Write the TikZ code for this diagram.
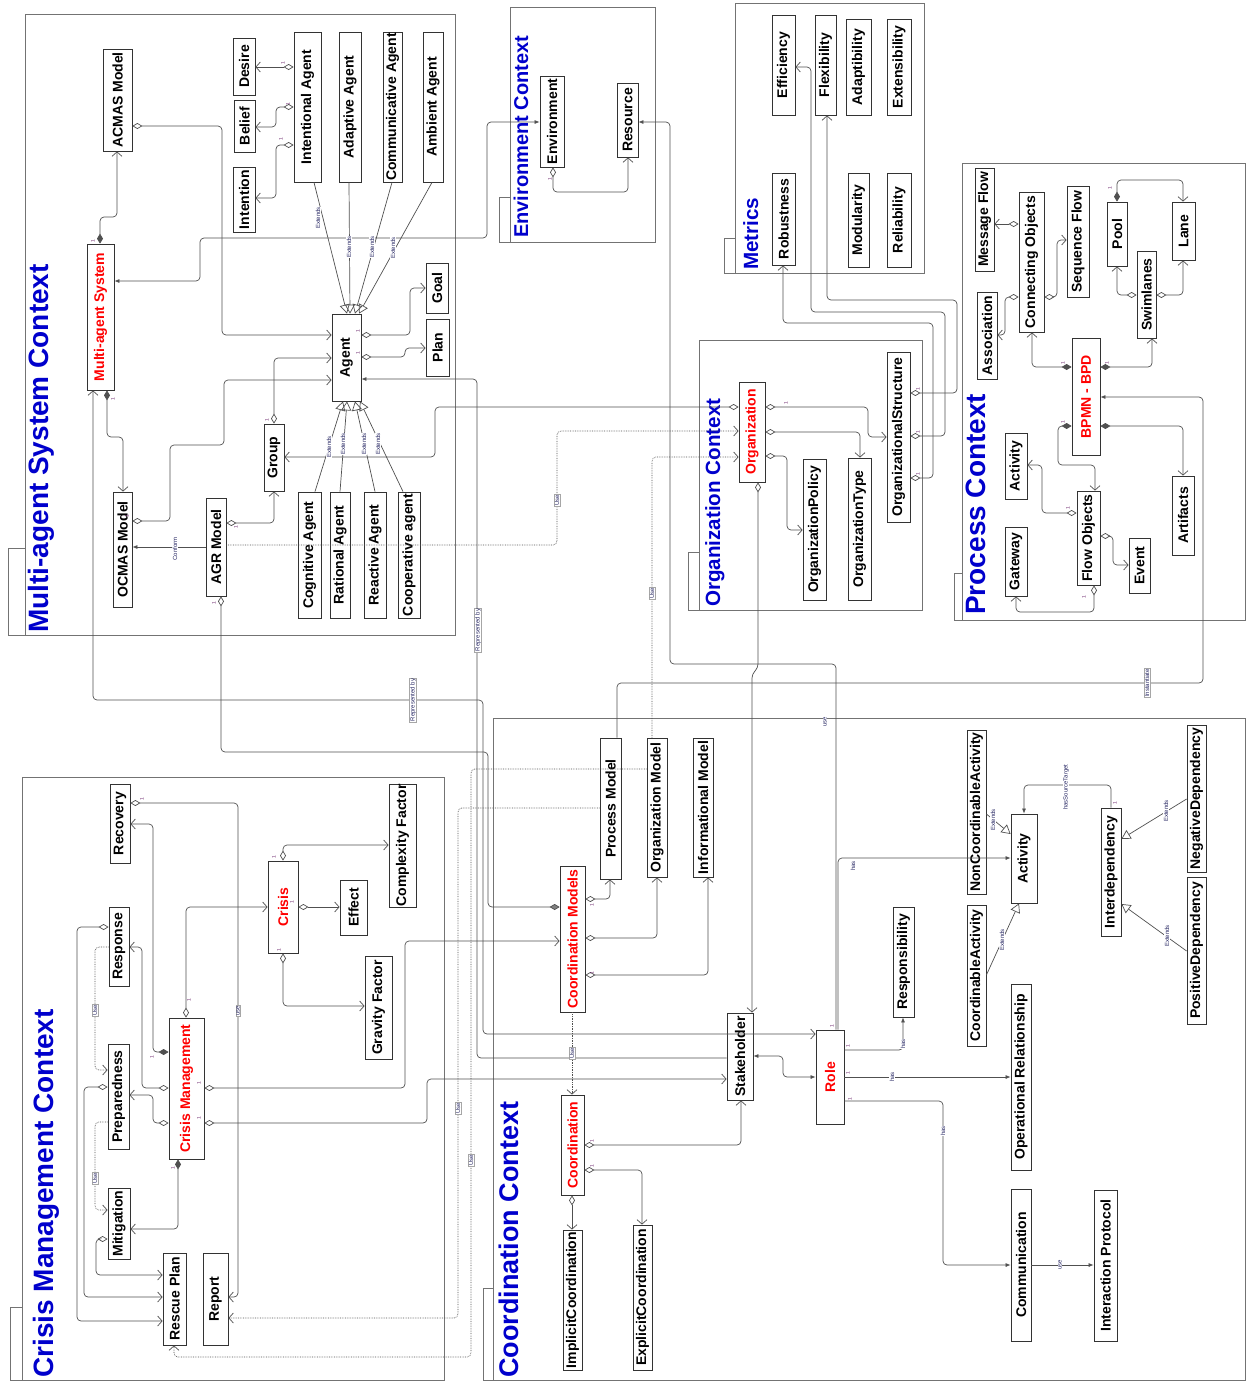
\documentclass[tikz,border=0pt]{standalone}
\usepackage{fontspec}
\setmainfont{Liberation Sans}
\usetikzlibrary{arrows.meta}
\definecolor{ttl}{RGB}{0,0,204}
\definecolor{rd}{RGB}{255,0,0}
\definecolor{lnc}{RGB}{80,80,80}
\definecolor{frc}{RGB}{115,115,115}
\definecolor{labc}{RGB}{40,40,100}
\definecolor{mulc}{RGB}{110,40,110}
\tikzset{
 ob/.tip={Straight Barb[length=4.5pt,width=10pt,line width=0.7pt]},
 fa/.tip={Latex[length=5pt,width=4pt]},
 tri/.tip={Triangle[open,length=9pt,width=10pt,line width=0.7pt]},
 dia/.tip={Diamond[open,length=10pt,width=6pt,line width=0.7pt]},
 fdia/.tip={Diamond[length=10pt,width=6pt]},
 gdia/.tip={Diamond[length=10pt,width=6pt,fill=gray]},
 box/.style={draw=black!80, line width=0.8pt, inner sep=0pt, font=\bfseries\fontsize{14}{16}\selectfont, text=black},
 rbox/.style={box, text=rd},
 ln/.style={draw=lnc, line width=0.7pt, rounded corners=4pt},
 dl/.style={ln, densely dotted},
 frame/.style={draw=frc, line width=0.9pt},
 ttlst/.style={rotate=90, anchor=base west, inner sep=0pt, text=ttl, font=\bfseries\fontsize{28}{30}\selectfont},
 lab/.style={rotate=90, inner sep=0.6pt, fill=white, text=labc, font=\fontsize{6}{7}\selectfont},
 blab/.style={lab, draw=gray!70, line width=0.3pt},
 mul/.style={rotate=90, inner sep=0pt, text=mulc, font=\fontsize{5}{5}\selectfont},
}
\newcommand\bx[7][box]{\node[#1, minimum width={(#5-#3)*1pt}, minimum height={(#6-#4)*1pt}] (#2) at ({(#3+#5)/2},{(#4+#6)/2}) {\rotatebox{90}{#7}};}
\newcommand\lb[5][lab]{\node[#1] (#2) at (#3,#4) {#5};}
\newcommand\mo[3]{\node[mul] (m#1) at (#2,#3) {1};}
\begin{document}
\begin{tikzpicture}[x=1pt,y=-1pt]
\fill[white] (0,0) rectangle (1249,1382);
\useasboundingbox (0,0) rectangle (1249,1382);

% ---------- frames ----------
\draw[frame] (25,14) rectangle (455,635);
\draw[frame] (25,548) -- (8,548) -- (8,635) -- (25,635);
\draw[frame] (510,7) rectangle (655,242);
\draw[frame] (510,197) -- (499,197) -- (499,242) -- (510,242);
\draw[frame] (735,3) rectangle (924,273);
\draw[frame] (735,238) -- (724,238) -- (724,273) -- (735,273);
\draw[frame] (962,163) rectangle (1245,620);
\draw[frame] (962,573) -- (954,573) -- (954,620) -- (962,620);
\draw[frame] (699,340) rectangle (922,610);
\draw[frame] (699,552) -- (688,552) -- (688,610) -- (699,610);
\draw[frame] (22,777) rectangle (444,1380);
\draw[frame] (22,1307) -- (10,1307) -- (10,1380) -- (22,1380);
\draw[frame] (493,718) rectangle (1245,1380);
\draw[frame] (493,1288) -- (483,1288) -- (483,1380) -- (493,1380);

% ---------- titles ----------
\node[ttlst] (tmas) at (48,633) {Multi-agent System Context};
\node[ttlst, font=\bfseries\fontsize{20}{22}\selectfont] (tenv) at (528,238) {Environment Context};
\node[ttlst, font=\bfseries\fontsize{20.6}{22}\selectfont] (tmet) at (758,270) {Metrics};
\node[ttlst] (tproc) at (985,615) {Process Context};
\node[ttlst, font=\bfseries\fontsize{20.6}{22}\selectfont] (torg) at (720,607) {Organization Context};
\node[ttlst] (tcri) at (53,1378) {Crisis Management Context};
\node[ttlst, font=\bfseries\fontsize{27}{29}\selectfont] (tcoo) at (518,1378) {Coordination Context};

% ---------- MAS nodes ----------
\bx{acmas}{103}{49}{132}{151}{ACMAS Model}
\bx[rbox]{mas}{87}{244}{114}{390}{Multi-agent System}
\bx{desire}{233}{38}{255}{95}{Desire}
\bx{belief}{234}{100}{255}{152}{Belief}
\bx{intention}{233}{167}{255}{232}{Intention}
\bx{ia}{294}{32}{321}{182}{Intentional Agent}
\bx{ada}{339}{32}{361}{182}{Adaptive Agent}
\bx{comag}{383}{32}{402}{182}{Communicative Agent}
\bx{amb}{423}{32}{443}{182}{Ambient Agent}
\bx{goal}{426}{263}{448}{313}{Goal}
\bx{plan}{426}{319}{449}{376}{Plan}
\bx{agent}{332}{314}{361}{401}{Agent}
\bx{group}{264}{424}{284}{491}{Group}
\bx{ocmas}{113}{492}{132}{607}{OCMAS Model}
\bx{agr}{206}{498}{226}{596}{AGR Model}
\bx{cog}{298}{492}{321}{618}{Cognitive Agent}
\bx{rat}{330}{492}{350}{618}{Rational Agent}
\bx{rea}{364}{492}{386}{618}{Reactive Agent}
\bx{coop}{398}{492}{420}{618}{Cooperative agent}

% ---------- Environment ----------
\bx{env}{540}{76}{564}{167}{Environment}
\bx{res}{617}{83}{638}{157}{Resource}

% ---------- Metrics ----------
\bx{eff}{772}{15}{795}{115}{Efficiency}
\bx{flex}{815}{15}{836}{115}{Flexibility}
\bx{adapt}{846}{19}{871}{115}{Adaptibility}
\bx{ext}{887}{19}{911}{115}{Extensibility}
\bx{rob}{772}{173}{795}{265}{Robustness}
\bx{mod}{848}{173}{869}{267}{Modularity}
\bx{rel}{887}{173}{911}{267}{Reliability}

% ---------- Process ----------
\bx{mf}{975}{168}{994}{271}{Message Flow}
\bx{co}{1019}{192}{1044}{332}{Connecting Objects}
\bx{sf}{1067}{186}{1089}{297}{Sequence Flow}
\bx{pool}{1107}{202}{1127}{266}{Pool}
\bx{lane}{1172}{202}{1195}{260}{Lane}
\bx{swim}{1137}{251}{1156}{338}{Swimlanes}
\bx{assoc}{977}{292}{997}{379}{Association}
\bx[rbox]{bpmn}{1072}{338}{1100}{455}{BPMN - BPD}
\bx{pact}{1005}{433}{1027}{499}{Activity}
\bx{fo}{1077}{491}{1100}{585}{Flow Objects}
\bx{gw}{1005}{527}{1027}{596}{Gateway}
\bx{event}{1129}{538}{1150}{593}{Event}
\bx{art}{1172}{476}{1194}{555}{Artifacts}

% ---------- Organization ----------
\bx[rbox]{org}{739}{382}{765}{482}{Organization}
\bx{op}{803}{459}{826}{600}{OrganizationPolicy}
\bx{ot}{848}{458}{871}{600}{OrganizationType}
\bx{os}{887}{352}{910}{522}{OrganizationalStructure}

% ---------- Crisis ----------
\bx{rec}{110}{784}{130}{863}{Recovery}
\bx{resp}{109}{907}{129}{986}{Response}
\bx{prep}{108}{1044}{129}{1149}{Preparedness}
\bx{mit}{108}{1188}{130}{1259}{Mitigation}
\bx{rescue}{163}{1253}{186}{1345}{Rescue Plan}
\bx{report}{203}{1253}{228}{1345}{Report}
\bx[rbox]{crm}{169}{1018}{204}{1159}{Crisis Management}
\bx[rbox]{crisis}{268}{861}{298}{953}{Crisis}
\bx{effect}{340}{880}{367}{935}{Effect}
\bx{cf}{389}{784}{416}{907}{Complexity Factor}
\bx{gf}{365}{956}{392}{1059}{Gravity Factor}

% ---------- Coordination ----------
\bx{pm}{600}{738}{621}{879}{Process Model}
\bx{orgm}{647}{738}{667}{877}{Organization Model}
\bx{im}{693}{738}{713}{877}{Informational Model}
\bx[rbox]{cms}{560}{866}{585}{1012}{Coordination Models}
\bx[rbox]{coord}{561}{1095}{584}{1195}{Coordination}
\bx{ic}{563}{1230}{582}{1370}{ImplicitCoordination}
\bx{ec}{633}{1225}{652}{1370}{ExplicitCoordination}
\bx{stake}{727}{1013}{753}{1100}{Stakeholder}
\bx[rbox]{role}{816}{1030}{844}{1124}{Role}
\bx{respo}{893}{907}{914}{1017}{Responsibility}
\bx{act}{1011}{814}{1037}{903}{Activity}
\bx{nca}{967}{730}{986}{894}{NonCoordinableActivity}
\bx{ca}{967}{905}{986}{1046}{CoordinableActivity}
\bx{inter}{1101}{808}{1121}{936}{Interdependency}
\bx{neg}{1187}{725}{1206}{872}{NegativeDependency}
\bx{pos}{1187}{877}{1206}{1024}{PositiveDependency}
\bx{oprel}{1011}{984}{1031}{1170}{Operational Relationship}
\bx{comm}{1011}{1189}{1031}{1341}{Communication}
\bx{ip}{1094}{1190}{1117}{1341}{Interaction Protocol}

% ========== connectors: MAS ==========
\draw[ln, fdia-ob] (mas.north -| 100,0) |- (117,217) -- (acmas.south -| 117,0);
\draw[ln, dia-ob] (acmas.east |- 0,126) -| (222,335) -- (agent.west |- 0,335);
\draw[ln, fa-fa] (mas.east |- 0,281) -| (200,238) -| (487,122) -- (env.west |- 0,122);
\draw[ln, dia-ob] (ia.west |- 0,67) -- (desire.east |- 0,67);
\draw[ln, dia-ob] (ia.west |- 0,107) -| (276,127) -- (belief.east |- 0,127);
\draw[ln, dia-ob] (ia.west |- 0,145) -| (276,198) -- (intention.east |- 0,198);
\draw[ln, -tri] (ia.south -| 314,0) -- (agent.north -| 347,0);
\draw[ln, -tri] (ada.south -| 349,0) -- (agent.north -| 350,0);
\draw[ln, -tri] (comag.south -| 392,0) -- (agent.north -| 355,0);
\draw[ln, -tri] (amb.south -| 432,0) -- (agent.north -| 359,0);
\draw[ln, -tri] (cog.north -| 315,0) -- (agent.south -| 343,0);
\draw[ln, -tri] (rat.north -| 340,0) -- (agent.south -| 347,0);
\draw[ln, -tri] (rea.north -| 375,0) -- (agent.south -| 355,0);
\draw[ln, -tri] (coop.north -| 403,0) -- (agent.south -| 360,0);
\draw[ln, dia-ob] (agent.east |- 0,335) -| (410,288) -- (goal.west |- 0,288);
\draw[ln, dia-ob] (agent.east |- 0,357) -| (405,348) -- (plan.west |- 0,348);
\draw[ln, dia-ob] (group.north) |- (agent.west |- 0,358);
\draw[ln, dia-ob] (ocmas.east |- 0,521) -| (170,445) -| (224,380) -- (agent.west |- 0,380);
\draw[ln, dia-ob] (agr.east |- 0,523) -| (group.south);
\draw[ln, -fa] (agr.west |- 0,547) -- (ocmas.east |- 0,547);
\draw[ln, fdia-ob] (mas.south -| 107,0) |- (123,437) -- (ocmas.north -| 123,0);
\draw[ln, dia-ob] (org.west |- 0,407) -| (435,457) -- (group.east |- 0,457);
\draw[dl, -ob] (agr.east |- 0,545) -| (557,431) -- (org.west |- 0,431);
\draw[dl, -ob] (orgm.north -| 652,0) |- (org.west |- 0,457);
\draw[ln, dia-gdia] (agr.south -| 221,0) |- (488,752) |- (cms.west |- 0,907);
\draw[ln, -fa] (stake.west |- 0,1058) -| (477,379) -- (agent.east |- 0,379);
\draw[ln, ob-ob] (mas.south -| 93,0) |- (483,700) |- (role.west |- 0,1034);

% ========== Environment ==========
\draw[ln, dia-ob] (env.south -| 553,0) |- (628,192) -- (res.south -| 628,0);
\draw[ln, -fa] (role.north -| 836,0) |- (670,664) |- (res.east |- 0,122);
\draw[ln, dia-ob] (org.south -| 758,0) -- (758,668) -- (752,674) -- (stake.north -| 752,0);

% ========== Organization / Metrics ==========
\draw[ln, dia-ob] (org.east |- 0,407) -| (868,437) -- (os.west |- 0,437);
\draw[ln, dia-ob] (org.east |- 0,432) -| (ot.north -| 860,0);
\draw[ln, dia-ob] (org.east |- 0,456) -| (787,530) -- (op.west |- 0,530);
\draw[ln, dia-ob] (os.east |- 0,393) -| (957,300) -| (flex.south -| 827,0);
\draw[ln, dia-ob] (os.east |- 0,436) -| (945,312) -| (811,67) -- (eff.east |- 0,67);
\draw[ln, dia-ob] (os.east |- 0,478) -| (933,323) -| (rob.south -| 783,0);

% ========== Process ==========
\draw[ln, fdia-ob] (bpmn.west |- 0,367) -| (co.south -| 1032,0);
\draw[ln, fdia-ob] (bpmn.east |- 0,367) -| (swim.south -| 1152,0);
\draw[ln, fdia-ob] (bpmn.west |- 0,426) -| (1058,465) -| (fo.north -| 1095,0);
\draw[ln, fdia-ob] (bpmn.east |- 0,426) -| (art.north);
\draw[ln, dia-ob] (co.west |- 0,224) -- (mf.east |- 0,224);
\draw[ln, dia-ob] (co.west |- 0,297) -| (1005,335) -- (assoc.east |- 0,335);
\draw[ln, dia-ob] (co.east |- 0,297) -| (1057,240) -- (sf.west |- 0,240);
\draw[ln, dia-ob] (swim.west |- 0,295) -| (pool.south -| 1117,0);
\draw[ln, dia-ob] (swim.east |- 0,295) -| (lane.south -| 1183,0);
\draw[ln, fdia-ob] (pool.north -| 1117,0) |- (1183,180) -- (lane.north -| 1183,0);
\draw[ln, dia-ob] (fo.west |- 0,513) -| (1042,465) -- (pact.east |- 0,465);
\draw[ln, dia-ob] (fo.east |- 0,536) -| (1113,565) -- (event.west |- 0,565);
\draw[ln, dia-ob] (fo.south -| 1094,0) |- (1016,612) -- (gw.south -| 1016,0);
\draw[ln, -fa] (pm.north -| 617,0) |- (1203,683) |- (bpmn.east |- 0,397);

% ========== Crisis ==========
\draw[ln, dia-ob] (crm.north -| 186,0) |- (crisis.west |- 0,907);
\draw[ln, fdia-ob] (crm.west |- 0,1052) -| (153,824) -- (rec.east |- 0,824);
\draw[ln, dia-ob] (crm.west |- 0,1088) -| (142,947) -- (resp.east |- 0,947);
\draw[ln, dia-ob] (crm.west |- 0,1123) -| (153,1095) -- (prep.east |- 0,1095);
\draw[ln, fdia-ob] (crm.south -| 178,0) |- (mit.east |- 0,1229);
\draw[dl, -ob] (resp.west |- 0,947) -| (95,1070) -- (prep.west |- 0,1070);
\draw[dl, -ob] (prep.west |- 0,1122) -| (95,1210) -- (mit.west |- 0,1210);
\draw[ln, dia-ob] (resp.west |- 0,927) -| (77,1321) -- (rescue.west |- 0,1321);
\draw[ln, dia-ob] (prep.west |- 0,1087) -| (84,1297) -- (rescue.west |- 0,1297);
\draw[ln, dia-ob] (mit.west |- 0,1239) -| (96,1275) -- (rescue.west |- 0,1275);
\draw[ln, dia-ob] (rec.east |- 0,803) -| (238,1297) -- (report.east |- 0,1297);
\draw[ln, dia-ob] (crisis.north -| 283,0) |- (cf.west |- 0,845);
\draw[ln, dia-ob] (crisis.east |- 0,907) -- (effect.west |- 0,907);
\draw[ln, dia-ob] (crisis.south -| 283,0) |- (gf.west |- 0,1006);
\draw[ln, dia-ob] (crm.east |- 0,1088) -| (405,941) -- (cms.west |- 0,941);
\draw[ln, dia-ob] (crm.east |- 0,1123) -| (427,1079) -- (stake.west |- 0,1079);
\draw[dl, -ob] (pm.west |- 0,808) -| (458,1318) -- (report.east |- 0,1318);
\draw[dl, -ob] (orgm.west |- 0,769) -| (471,1357) -| (rescue.south -| 174,0);

% ========== Coordination ==========
\draw[ln, dia-ob] (cms.east |- 0,899) -| (pm.south -| 610,0);
\draw[ln, dia-ob] (cms.east |- 0,938) -| (orgm.south -| 657,0);
\draw[ln, dia-ob] (cms.east |- 0,975) -| (im.south -| 708,0);
\draw[dl, -ob] (cms.south -| 572,0) -- (coord.north -| 572,0);
\draw[ln, dia-ob] (coord.east |- 0,1145) -| (stake.south -| 741,0);
\draw[ln, dia-ob] (coord.east |- 0,1170) -| (ec.north -| 642,0);
\draw[ln, dia-ob] (coord.south -| 572,0) -- (ic.north -| 572,0);
\draw[ln, fa-fa] (stake.east |- 0,1056) -| (783,1077) -- (role.west |- 0,1077);
\draw[ln, -fa] (role.east |- 0,1050) -| (respo.south -| 903,0);
\draw[ln, -fa] (role.east |- 0,1077) -- (oprel.west |- 0,1077);
\draw[ln, -fa] (role.east |- 0,1101) -| (943,1265) -- (comm.west |- 0,1265);
\draw[ln, -fa] (role.north -| 838,0) |- (act.west |- 0,858);
\draw[ln, -fa] (comm.east |- 0,1265) -- (ip.west |- 0,1265);
\draw[ln, -tri] (nca.east |- 0,814) -- (act.west |- 0,834);
\draw[ln, -tri] (ca.east |- 0,975) -- (act.south -| 1019,0);
\draw[ln, -fa] (inter.north -| 1111,0) |- (1024,785) -- (act.north -| 1024,0);
\draw[ln, -tri] (neg.west |- 0,799) -- (inter.east |- 0,839);
\draw[ln, -tri] (pos.west |- 0,951) -- (inter.east |- 0,904);

% ========== labels ==========
\lb{l1}{318}{218}{Extends}
\lb{l2}{349}{247}{Extends}
\lb{l3}{372}{247}{Extends}
\lb{l4}{393}{248}{Extends}
\lb{l5}{329}{447}{Extends}
\lb{l6}{343}{444}{Extends}
\lb{l7}{364}{444}{Extends}
\lb{l8}{378}{444}{Extends}
\lb{l9}{175}{549}{Conform}
\lb[blab]{l10}{557}{500}{Use}
\lb[blab]{l11}{652}{593}{Use}
\lb[blab]{l12}{478}{630}{Represented by}
\lb[blab]{l13}{413}{700}{Represented by}
\lb[blab]{l14}{1147}{683}{Instantiate}
\lb{l15}{825}{722}{use}
\lb{l16}{853}{866}{has}
\lb{l17}{903}{1044}{has}
\lb{l18}{892}{1077}{has}
\lb{l19}{943}{1131}{has}
\lb{l20}{1060}{1265}{use}
\lb{l21}{993}{820}{Extends}
\lb{l22}{1002}{940}{Extends}
\lb{l23}{1166}{811}{Extends}
\lb{l24}{1167}{936}{Extends}
\lb{l25}{1066}{787}{hasSourceTarget}
\lb[blab]{l26}{572}{1053}{Use}
\lb[blab]{l27}{458}{1108}{Use}
\lb[blab]{l28}{471}{1160}{Use}
\lb[blab]{l29}{238}{1011}{use}
\lb[blab]{l30}{95}{1010}{Use}
\lb[blab]{l31}{95}{1178}{Use}

% ========== multiplicities ==========
\mo{1}{93}{241}
\mo{2}{113}{399}
\mo{3}{283}{63}
\mo{4}{288}{104}
\mo{5}{281}{139}
\mo{6}{358}{331}
\mo{7}{358}{353}
\mo{8}{267}{420}
\mo{9}{127}{516}
\mo{10}{236}{527}
\mo{11}{214}{603}
\mo{12}{550}{179}
\mo{13}{786}{403}
\mo{14}{918}{389}
\mo{15}{918}{432}
\mo{16}{918}{474}
\mo{17}{189}{1000}
\mo{18}{152}{1057}
\mo{19}{199}{1083}
\mo{20}{199}{1118}
\mo{21}{173}{1168}
\mo{22}{274}{857}
\mo{23}{292}{902}
\mo{24}{279}{950}
\mo{25}{142}{799}
\mo{26}{592}{905}
\mo{27}{592}{973}
\mo{28}{592}{1141}
\mo{29}{592}{1166}
\mo{30}{832}{1026}
\mo{31}{848}{1046}
\mo{32}{848}{1073}
\mo{33}{850}{1099}
\mo{34}{1115}{803}
\mo{35}{1063}{363}
\mo{36}{1107}{363}
\mo{37}{1063}{422}
\mo{38}{1110}{188}
\mo{39}{1084}{597}
\mo{40}{1068}{508}
\end{tikzpicture}
\end{document}
